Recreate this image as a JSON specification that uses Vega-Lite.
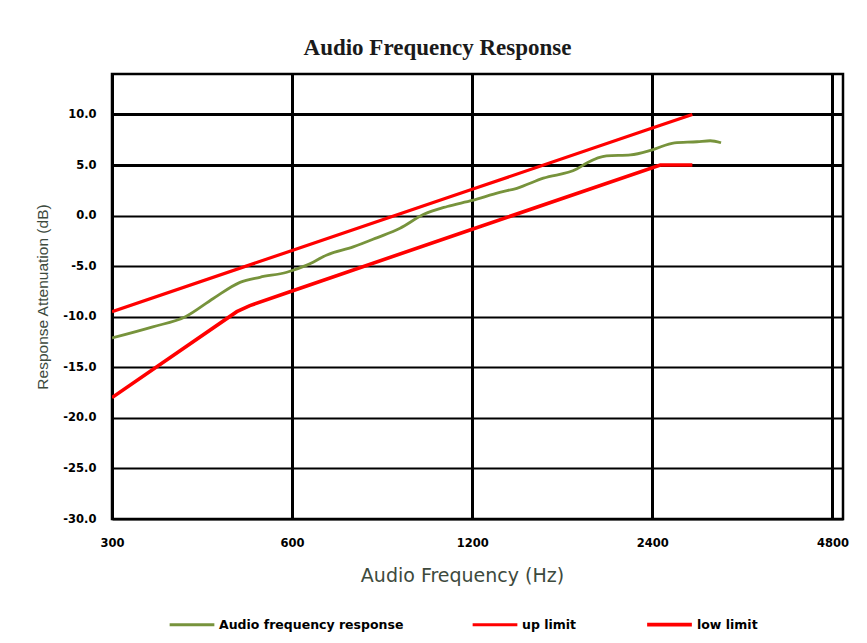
{
  "$schema": "https://vega.github.io/schema/vega-lite/v6.json",
  "width": 731,
  "height": 445,
  "padding": {"left": 35, "top": 37, "right": 20, "bottom": 5},
  "background": "white",
  "title": {
    "text": "Audio Frequency Response",
    "font": "Liberation Serif",
    "fontSize": 23,
    "fontWeight": "bold",
    "color": "#1a1a1a",
    "offset": 14,
    "dx": -40
  },
  "data": {
    "values": [
      {"series": "Audio frequency response", "freq": 300, "db": -12.1},
      {"series": "Audio frequency response", "freq": 351, "db": -11.0},
      {"series": "Audio frequency response", "freq": 398, "db": -10.0},
      {"series": "Audio frequency response", "freq": 443, "db": -8.2},
      {"series": "Audio frequency response", "freq": 491, "db": -6.6},
      {"series": "Audio frequency response", "freq": 530, "db": -6.1},
      {"series": "Audio frequency response", "freq": 588, "db": -5.6},
      {"series": "Audio frequency response", "freq": 635, "db": -4.9},
      {"series": "Audio frequency response", "freq": 686, "db": -3.9},
      {"series": "Audio frequency response", "freq": 759, "db": -3.1},
      {"series": "Audio frequency response", "freq": 831, "db": -2.2},
      {"series": "Audio frequency response", "freq": 909, "db": -1.25},
      {"series": "Audio frequency response", "freq": 994, "db": 0.1},
      {"series": "Audio frequency response", "freq": 1090, "db": 0.9},
      {"series": "Audio frequency response", "freq": 1200, "db": 1.5},
      {"series": "Audio frequency response", "freq": 1334, "db": 2.3},
      {"series": "Audio frequency response", "freq": 1425, "db": 2.7},
      {"series": "Audio frequency response", "freq": 1578, "db": 3.7},
      {"series": "Audio frequency response", "freq": 1794, "db": 4.6},
      {"series": "Audio frequency response", "freq": 1865, "db": 5.2},
      {"series": "Audio frequency response", "freq": 2012, "db": 5.9},
      {"series": "Audio frequency response", "freq": 2207, "db": 6.0},
      {"series": "Audio frequency response", "freq": 2400, "db": 6.5},
      {"series": "Audio frequency response", "freq": 2615, "db": 7.2},
      {"series": "Audio frequency response", "freq": 2852, "db": 7.3},
      {"series": "Audio frequency response", "freq": 3000, "db": 7.4},
      {"series": "Audio frequency response", "freq": 3127, "db": 7.2},
      {"series": "up limit", "freq": 300, "db": -9.5},
      {"series": "up limit", "freq": 600, "db": -3.45},
      {"series": "up limit", "freq": 1200, "db": 2.6},
      {"series": "up limit", "freq": 2400, "db": 8.65},
      {"series": "up limit", "freq": 2800, "db": 10.0},
      {"series": "low limit", "freq": 300, "db": -18.0},
      {"series": "low limit", "freq": 485, "db": -9.5},
      {"series": "low limit", "freq": 510, "db": -8.9},
      {"series": "low limit", "freq": 600, "db": -7.45},
      {"series": "low limit", "freq": 1200, "db": -1.35},
      {"series": "low limit", "freq": 2475, "db": 5.0},
      {"series": "low limit", "freq": 2800, "db": 5.0}
    ]
  },
  "encoding": {
    "x": {
      "field": "freq",
      "type": "quantitative",
      "scale": {"type": "log", "base": 2, "domain": [300, 5000], "nice": false},
      "axis": {
        "values": [300, 600, 1200, 2400, 4800],
        "format": "d",
        "title": "Audio Frequency (Hz)",
        "titleX": 350,
        "labelPadding": 18,
        "titlePadding": 18,
        "labelFlush": false,
        "gridWidth": 3,
        "titleFont": "DejaVu Sans",
        "titleFontSize": 19,
        "titleColor": "#3d4a3d"
      }
    },
    "y": {
      "field": "db",
      "type": "quantitative",
      "scale": {"domain": [-30, 14], "nice": false, "zero": false},
      "axis": {
        "values": [-30, -25, -20, -15, -10, -5, 0, 5, 10],
        "labelExpr": "replace(format(datum.value, '.1f'), '\u2212', '-')",
        "title": "Response Attenuation (dB)",
        "labelPadding": 16,
        "titlePadding": 12,
        "labelFlush": false,
        "gridWidth": {"condition": {"test": "datum.value >= 5", "value": 3.2}, "value": 2.2},
        "titleFont": "Liberation Sans",
        "titleFontSize": 15.5,
        "titleColor": "#3d4a3d"
      }
    },
    "strokeWidth": {
      "field": "series",
      "type": "nominal",
      "scale": {
        "domain": ["Audio frequency response", "up limit", "low limit"],
        "range": [2.8, 3.6, 3.6]
      },
      "legend": null
    },
    "color": {
      "field": "series",
      "type": "nominal",
      "scale": {
        "domain": ["Audio frequency response", "up limit", "low limit"],
        "range": ["#77933C", "#FF0000", "#FF0000"]
      },
      "legend": {
        "title": null,
        "orient": "none",
        "legendX": 56,
        "legendY": 526,
        "direction": "horizontal",
        "symbolType": "stroke",
        "symbolStrokeWidth": 3.5,
        "symbolSize": 2000,
        "columnPadding": 62,
        "labelLimit": 400,
        "labelFont": "DejaVu Sans",
        "labelFontWeight": "bold",
        "labelFontSize": 12.5,
        "labelColor": "#000000",
        "labelOffset": 3
      }
    }
  },
  "layer": [
    {
      "transform": [{"filter": "datum.series !== 'Audio frequency response'"}],
      "mark": {"type": "line", "clip": true, "interpolate": "linear"}
    },
    {
      "transform": [{"filter": "datum.series === 'Audio frequency response'"}],
      "mark": {"type": "line", "clip": true, "interpolate": "monotone"}
    }
  ],
  "config": {
    "view": {"stroke": "#000000", "strokeWidth": 2.5},
    "axis": {
      "grid": true,
      "gridColor": "#000000",
      "gridWidth": 2.5,
      "gridOpacity": 1,
      "domain": false,
      "ticks": false,
      "labelFont": "DejaVu Sans",
      "labelFontWeight": "bold",
      "labelFontSize": 11.5,
      "labelColor": "#000000",
      "titleFontWeight": "normal"
    }
  }
}
